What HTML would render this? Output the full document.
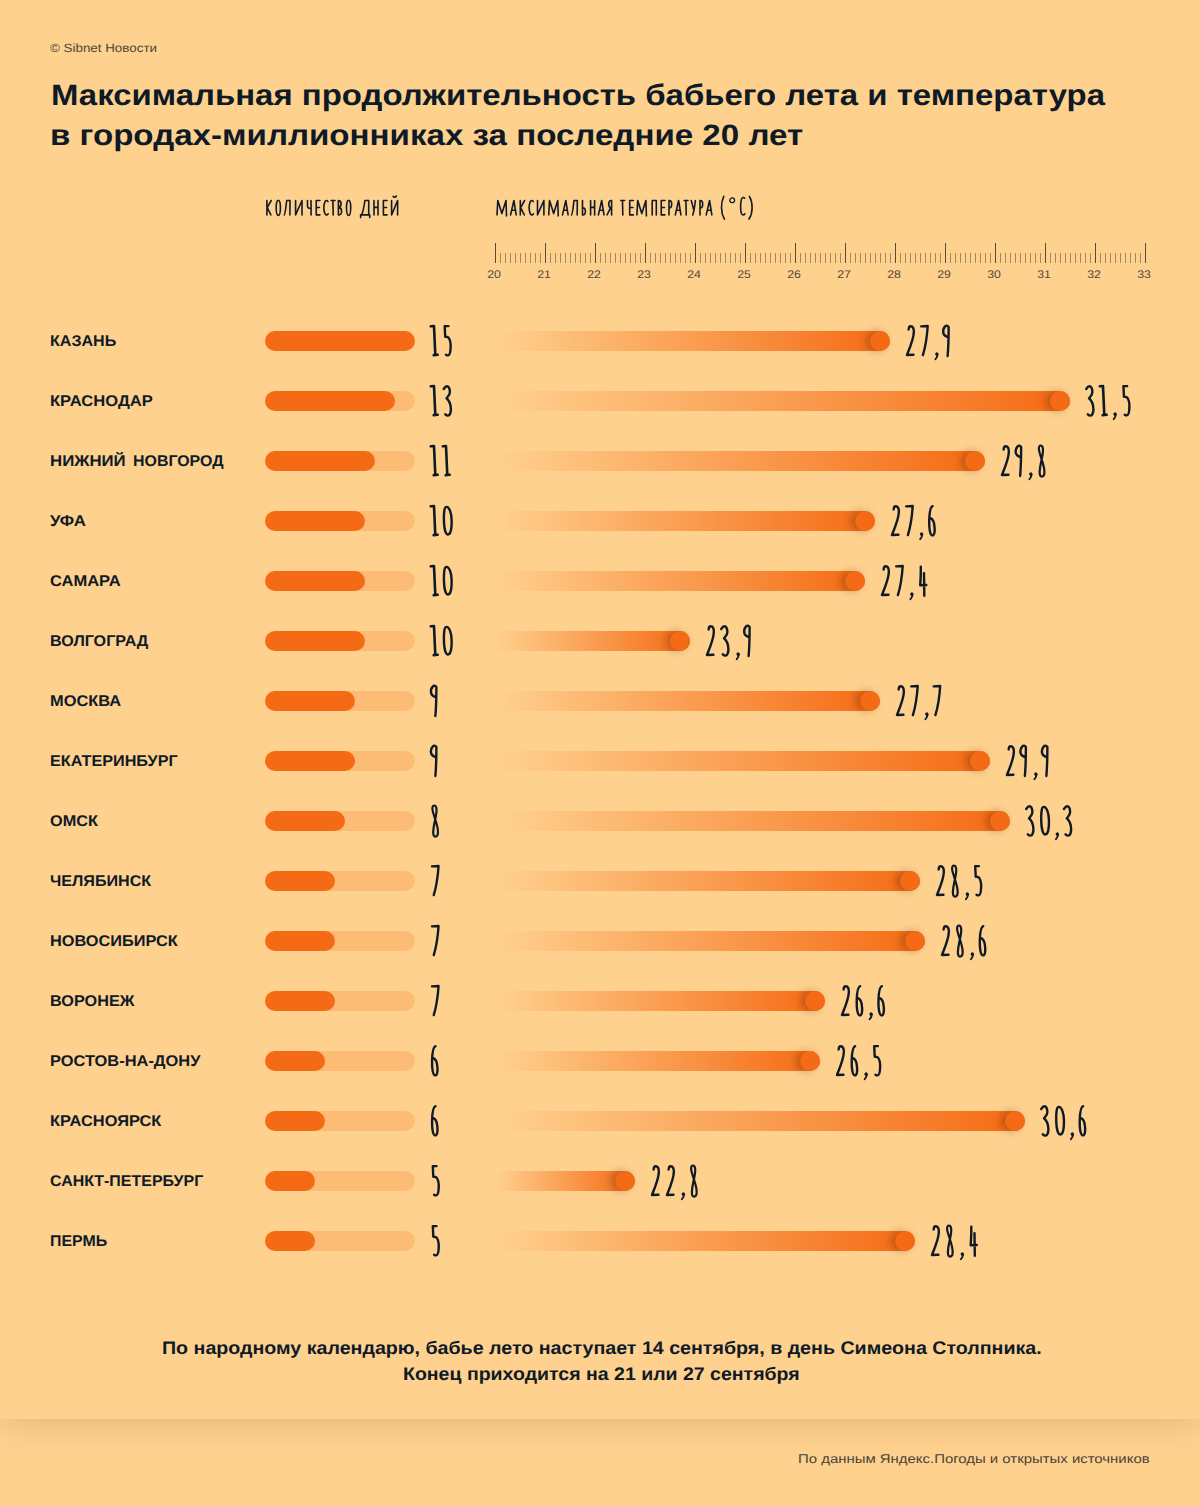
<!DOCTYPE html>
<html lang="ru"><head><meta charset="utf-8"><title>Бабье лето</title>
<style>
html,body{margin:0;padding:0}
body{width:1200px;height:1506px;background:#ffd18f;position:relative;overflow:hidden;font-family:"Liberation Sans",sans-serif}
.t{position:absolute;white-space:nowrap;display:inline-block;transform-origin:0 50%;text-rendering:geometricPrecision}
.abs{position:absolute}
.num{position:absolute;overflow:visible;fill:none;stroke:#0e1a26;stroke-linecap:round;stroke-linejoin:round}
.rl{position:absolute;top:268px;width:40px;text-align:center;font-size:11px;line-height:14px;color:#55493a;transform:scaleX(1.12);text-rendering:geometricPrecision}
.track{position:absolute;left:265px;width:150px;height:20px;border-radius:10px;background:rgba(245,106,20,0.20)}
.fill{height:20px;border-radius:10px;background:#f56a14}
.tbar{position:absolute;left:495px;height:20px;border-radius:0 10px 10px 0;background:linear-gradient(to right,rgba(245,106,20,0) 0%,rgba(245,106,20,1) 100%)}
.tbar i{position:absolute;right:0;top:0;width:20px;height:20px;border-radius:50%;background:#f56a14;box-shadow:-4px 0 8px rgba(20,10,0,.27)}
.footer{position:absolute;left:0;top:1419px;width:1200px;height:87px;background:#ffd18f}
.main{position:absolute;left:0;top:0;width:1200px;height:1419px;background:#ffd18f;box-shadow:0 4px 34px -4px rgba(40,20,0,.17)}
</style></head>
<body>
<div class="footer"></div><div class="main"></div>
<span id="cp" class="t" style="left:50.00px;top:42.00px;font-size:12.00px;line-height:12.00px;font-weight:normal;color:#4d4538;transform:scaleX(1.1146);">© Sibnet Новости</span>
<span id="t1" class="t" style="left:51.00px;top:81.00px;font-size:29.50px;line-height:29.50px;font-weight:bold;color:#0e1a26;transform:scaleX(1.1165);">Максимальная продолжительность бабьего лета и температура</span>
<span id="t2" class="t" style="left:49.80px;top:121.00px;font-size:29.50px;line-height:29.50px;font-weight:bold;color:#0e1a26;transform:scaleX(1.1225);">в городах-миллионниках за последние 20 лет</span>
<svg class="num" style="left:262px;top:190px" width="144" height="36" viewBox="0 0 144 36"><path transform="translate(4.00 9.60)" d="M0.9 0.9 L0.9 15.3 M5.2 0.9 L1.2 8 L4.9 15.3" stroke-width="1.6"/><path transform="translate(13.30 9.60)" d="M3 0.6 C1.4 0.6 0.9 4 0.9 8.2 C0.9 12.5 1.5 15.8 3 15.8 C4.6 15.8 5.1 12.5 5.1 8.2 C5.1 4 4.6 0.6 3 0.6 Z" stroke-width="1.6"/><path transform="translate(21.40 9.60)" d="M0.9 15.3 C1.7 15 2.2 10 3.3 0.9 L6.6 0.9 L6.5 15.3" stroke-width="1.6"/><path transform="translate(32.70 9.60)" d="M0.9 0.9 L0.9 15.3 L7.3 0.9 L7.3 15.3" stroke-width="1.6"/><path transform="translate(44.60 9.60)" d="M0.9 0.9 L0.9 6.3 C0.9 8.5 2.5 8.9 4.4 8.6 M4.4 0.9 L4.5 15.3" stroke-width="1.6"/><path transform="translate(53.35 9.60)" d="M4.6 0.9 L0.9 0.9 L0.9 15.3 L4.5 15.3 M0.9 7.9 L4.1 7.9" stroke-width="1.6"/><path transform="translate(61.10 9.60)" d="M4.9 2 C4 0.5 2.5 0.4 1.7 2.5 C0.7 5.5 0.7 11 1.7 13.8 C2.6 15.9 4.2 15.6 5 14.2" stroke-width="1.6"/><path transform="translate(68.40 9.60)" d="M0.8 0.9 L4.6 0.9 M2.5 0.9 L2.8 15.3" stroke-width="1.6"/><path transform="translate(75.50 9.60)" d="M0.9 0.9 L0.9 15.3 C3.5 15.5 4.2 13.5 4.1 11.5 C4 9.3 2.8 8 1.2 7.8 C2.6 7.4 3.6 6.2 3.6 4.2 C3.6 2 2.6 0.9 0.9 0.9" stroke-width="1.6"/><path transform="translate(83.60 9.60)" d="M3 0.6 C1.4 0.6 0.9 4 0.9 8.2 C0.9 12.5 1.5 15.8 3 15.8 C4.6 15.8 5.1 12.5 5.1 8.2 C5.1 4 4.6 0.6 3 0.6 Z" stroke-width="1.6"/><path transform="translate(97.70 9.60)" d="M0.9 18 L0.9 15.3 L10 15.3 L10 18 M2 15.3 C3.3 12 4.5 6 5.2 0.9 L9 0.9 L9 15.3" stroke-width="1.6"/><path transform="translate(111.10 9.60)" d="M0.9 0.9 L0.9 15.3 M4.9 0.9 L4.9 15.3 M0.9 7.8 L4.9 7.8" stroke-width="1.6"/><path transform="translate(120.50 9.60)" d="M4.6 0.9 L0.9 0.9 L0.9 15.3 L4.5 15.3 M0.9 7.9 L4.1 7.9" stroke-width="1.6"/><path transform="translate(128.70 9.60)" d="M0.9 0.9 L0.9 15.3 L6.9 0.9 L6.9 15.3 M2.4 -3.2 C3 -2.1 4.8 -2.1 5.6 -3.6" stroke-width="1.6"/></svg>
<svg class="num" style="left:492px;top:190px" width="272" height="36" viewBox="0 0 272 36"><path transform="translate(4.10 9.60)" d="M0.9 15.3 L1.7 0.9 L5.8 14 L9.9 0.9 L10.4 16.3" stroke-width="1.6"/><path transform="translate(17.70 9.60)" d="M0.9 15.3 L4.2 0.9 L6.5 15.3 M2 10.6 L5.7 10.6" stroke-width="1.6"/><path transform="translate(27.40 9.60)" d="M0.9 0.9 L0.9 15.3 M5.2 0.9 L1.2 8 L4.9 15.3" stroke-width="1.6"/><path transform="translate(36.40 9.60)" d="M4.9 2 C4 0.5 2.5 0.4 1.7 2.5 C0.7 5.5 0.7 11 1.7 13.8 C2.6 15.9 4.2 15.6 5 14.2" stroke-width="1.6"/><path transform="translate(44.60 9.60)" d="M0.9 0.9 L0.9 15.3 L7.3 0.9 L7.3 15.3" stroke-width="1.6"/><path transform="translate(55.85 9.60)" d="M0.9 15.3 L1.7 0.9 L5.8 14 L9.9 0.9 L10.4 16.3" stroke-width="1.6"/><path transform="translate(69.60 9.60)" d="M0.9 15.3 L4.2 0.9 L6.5 15.3 M2 10.6 L5.7 10.6" stroke-width="1.6"/><path transform="translate(78.70 9.60)" d="M0.9 15.3 C1.7 15 2.2 10 3.3 0.9 L6.6 0.9 L6.5 15.3" stroke-width="1.6"/><path transform="translate(89.60 9.60)" d="M0.9 0.9 L0.9 15.3 C3 15.5 3.8 13.8 3.8 11.8 C3.8 9.5 2.6 8.2 0.9 8.2" stroke-width="1.6"/><path transform="translate(97.70 9.60)" d="M0.9 0.9 L0.9 15.3 M4.9 0.9 L4.9 15.3 M0.9 7.8 L4.9 7.8" stroke-width="1.6"/><path transform="translate(105.50 9.60)" d="M0.9 15.3 L4.2 0.9 L6.5 15.3 M2 10.6 L5.7 10.6" stroke-width="1.6"/><path transform="translate(114.20 9.60)" d="M5.4 0.9 L5.4 15.3 M5.4 0.9 C3.5 0.7 2.5 2 2.5 4.5 C2.5 7 3.6 8.4 5.4 8.5 M4.2 8.5 L0.9 15.3" stroke-width="1.6"/><path transform="translate(128.00 9.60)" d="M0.8 0.9 L4.6 0.9 M2.5 0.9 L2.8 15.3" stroke-width="1.6"/><path transform="translate(136.80 9.60)" d="M4.6 0.9 L0.9 0.9 L0.9 15.3 L4.5 15.3 M0.9 7.9 L4.1 7.9" stroke-width="1.6"/><path transform="translate(144.00 9.60)" d="M0.9 15.3 L1.7 0.9 L5.8 14 L9.9 0.9 L10.4 16.3" stroke-width="1.6"/><path transform="translate(159.30 9.60)" d="M0.9 15.3 L0.9 0.9 L5 0.9 L5 15.3" stroke-width="1.6"/><path transform="translate(168.35 9.60)" d="M4.6 0.9 L0.9 0.9 L0.9 15.3 L4.5 15.3 M0.9 7.9 L4.1 7.9" stroke-width="1.6"/><path transform="translate(176.10 9.60)" d="M0.9 15.3 L0.9 0.9 C3 0.8 3.6 2.5 3.6 4.6 C3.6 7 2.6 8.4 0.9 8.4" stroke-width="1.6"/><path transform="translate(182.40 9.60)" d="M0.9 15.3 L4.2 0.9 L6.5 15.3 M2 10.6 L5.7 10.6" stroke-width="1.6"/><path transform="translate(191.40 9.60)" d="M0.8 0.9 L4.6 0.9 M2.5 0.9 L2.8 15.3" stroke-width="1.6"/><path transform="translate(198.35 9.60)" d="M0.9 0.9 L3.6 11 M5 0.9 C4.5 6 3.5 12 2.4 15.3" stroke-width="1.6"/><path transform="translate(207.10 9.60)" d="M0.9 15.3 L0.9 0.9 C3 0.8 3.6 2.5 3.6 4.6 C3.6 7 2.6 8.4 0.9 8.4" stroke-width="1.6"/><path transform="translate(213.35 9.60)" d="M0.9 15.3 L4.2 0.9 L6.5 15.3 M2 10.6 L5.7 10.6" stroke-width="1.6"/><path transform="translate(228.40 9.60)" d="M3.4 -3.3 C0.2 3 0.2 13 4 19.6" stroke-width="1.6"/><path transform="translate(237.10 9.60)" d="M3.1 -1.7 A2.4 2.4 0 1 0 3.1 3.1 A2.4 2.4 0 1 0 3.1 -1.7 Z" stroke-width="1.3"/><path transform="translate(247.70 9.60)" d="M5 -1.4 C4 -2.6 2.4 -2.4 1.7 0 C0.6 4 0.6 11 1.8 14 C2.8 16 4.3 15.6 5.2 14.2" stroke-width="1.6"/><path transform="translate(256.50 9.60)" d="M0.9 -3.3 C4.6 3 4.6 13 0.5 19.6" stroke-width="1.6"/></svg>
<svg class="abs" style="left:0;top:0" width="1200" height="300"><rect x="495" y="243" width="1" height="20" fill="#5a4a36"/><rect x="500" y="253" width="1" height="10" fill="#5a4a36" opacity=".55"/><rect x="505" y="253" width="1" height="10" fill="#5a4a36" opacity=".55"/><rect x="510" y="253" width="1" height="10" fill="#5a4a36" opacity=".55"/><rect x="515" y="253" width="1" height="10" fill="#5a4a36" opacity=".55"/><rect x="520" y="253" width="1" height="10" fill="#5a4a36" opacity=".55"/><rect x="525" y="253" width="1" height="10" fill="#5a4a36" opacity=".55"/><rect x="530" y="253" width="1" height="10" fill="#5a4a36" opacity=".55"/><rect x="535" y="253" width="1" height="10" fill="#5a4a36" opacity=".55"/><rect x="540" y="253" width="1" height="10" fill="#5a4a36" opacity=".55"/><rect x="545" y="243" width="1" height="20" fill="#5a4a36"/><rect x="550" y="253" width="1" height="10" fill="#5a4a36" opacity=".55"/><rect x="555" y="253" width="1" height="10" fill="#5a4a36" opacity=".55"/><rect x="560" y="253" width="1" height="10" fill="#5a4a36" opacity=".55"/><rect x="565" y="253" width="1" height="10" fill="#5a4a36" opacity=".55"/><rect x="570" y="253" width="1" height="10" fill="#5a4a36" opacity=".55"/><rect x="575" y="253" width="1" height="10" fill="#5a4a36" opacity=".55"/><rect x="580" y="253" width="1" height="10" fill="#5a4a36" opacity=".55"/><rect x="585" y="253" width="1" height="10" fill="#5a4a36" opacity=".55"/><rect x="590" y="253" width="1" height="10" fill="#5a4a36" opacity=".55"/><rect x="595" y="243" width="1" height="20" fill="#5a4a36"/><rect x="600" y="253" width="1" height="10" fill="#5a4a36" opacity=".55"/><rect x="605" y="253" width="1" height="10" fill="#5a4a36" opacity=".55"/><rect x="610" y="253" width="1" height="10" fill="#5a4a36" opacity=".55"/><rect x="615" y="253" width="1" height="10" fill="#5a4a36" opacity=".55"/><rect x="620" y="253" width="1" height="10" fill="#5a4a36" opacity=".55"/><rect x="625" y="253" width="1" height="10" fill="#5a4a36" opacity=".55"/><rect x="630" y="253" width="1" height="10" fill="#5a4a36" opacity=".55"/><rect x="635" y="253" width="1" height="10" fill="#5a4a36" opacity=".55"/><rect x="640" y="253" width="1" height="10" fill="#5a4a36" opacity=".55"/><rect x="645" y="243" width="1" height="20" fill="#5a4a36"/><rect x="650" y="253" width="1" height="10" fill="#5a4a36" opacity=".55"/><rect x="655" y="253" width="1" height="10" fill="#5a4a36" opacity=".55"/><rect x="660" y="253" width="1" height="10" fill="#5a4a36" opacity=".55"/><rect x="665" y="253" width="1" height="10" fill="#5a4a36" opacity=".55"/><rect x="670" y="253" width="1" height="10" fill="#5a4a36" opacity=".55"/><rect x="675" y="253" width="1" height="10" fill="#5a4a36" opacity=".55"/><rect x="680" y="253" width="1" height="10" fill="#5a4a36" opacity=".55"/><rect x="685" y="253" width="1" height="10" fill="#5a4a36" opacity=".55"/><rect x="690" y="253" width="1" height="10" fill="#5a4a36" opacity=".55"/><rect x="695" y="243" width="1" height="20" fill="#5a4a36"/><rect x="700" y="253" width="1" height="10" fill="#5a4a36" opacity=".55"/><rect x="705" y="253" width="1" height="10" fill="#5a4a36" opacity=".55"/><rect x="710" y="253" width="1" height="10" fill="#5a4a36" opacity=".55"/><rect x="715" y="253" width="1" height="10" fill="#5a4a36" opacity=".55"/><rect x="720" y="253" width="1" height="10" fill="#5a4a36" opacity=".55"/><rect x="725" y="253" width="1" height="10" fill="#5a4a36" opacity=".55"/><rect x="730" y="253" width="1" height="10" fill="#5a4a36" opacity=".55"/><rect x="735" y="253" width="1" height="10" fill="#5a4a36" opacity=".55"/><rect x="740" y="253" width="1" height="10" fill="#5a4a36" opacity=".55"/><rect x="745" y="243" width="1" height="20" fill="#5a4a36"/><rect x="750" y="253" width="1" height="10" fill="#5a4a36" opacity=".55"/><rect x="755" y="253" width="1" height="10" fill="#5a4a36" opacity=".55"/><rect x="760" y="253" width="1" height="10" fill="#5a4a36" opacity=".55"/><rect x="765" y="253" width="1" height="10" fill="#5a4a36" opacity=".55"/><rect x="770" y="253" width="1" height="10" fill="#5a4a36" opacity=".55"/><rect x="775" y="253" width="1" height="10" fill="#5a4a36" opacity=".55"/><rect x="780" y="253" width="1" height="10" fill="#5a4a36" opacity=".55"/><rect x="785" y="253" width="1" height="10" fill="#5a4a36" opacity=".55"/><rect x="790" y="253" width="1" height="10" fill="#5a4a36" opacity=".55"/><rect x="795" y="243" width="1" height="20" fill="#5a4a36"/><rect x="800" y="253" width="1" height="10" fill="#5a4a36" opacity=".55"/><rect x="805" y="253" width="1" height="10" fill="#5a4a36" opacity=".55"/><rect x="810" y="253" width="1" height="10" fill="#5a4a36" opacity=".55"/><rect x="815" y="253" width="1" height="10" fill="#5a4a36" opacity=".55"/><rect x="820" y="253" width="1" height="10" fill="#5a4a36" opacity=".55"/><rect x="825" y="253" width="1" height="10" fill="#5a4a36" opacity=".55"/><rect x="830" y="253" width="1" height="10" fill="#5a4a36" opacity=".55"/><rect x="835" y="253" width="1" height="10" fill="#5a4a36" opacity=".55"/><rect x="840" y="253" width="1" height="10" fill="#5a4a36" opacity=".55"/><rect x="845" y="243" width="1" height="20" fill="#5a4a36"/><rect x="850" y="253" width="1" height="10" fill="#5a4a36" opacity=".55"/><rect x="855" y="253" width="1" height="10" fill="#5a4a36" opacity=".55"/><rect x="860" y="253" width="1" height="10" fill="#5a4a36" opacity=".55"/><rect x="865" y="253" width="1" height="10" fill="#5a4a36" opacity=".55"/><rect x="870" y="253" width="1" height="10" fill="#5a4a36" opacity=".55"/><rect x="875" y="253" width="1" height="10" fill="#5a4a36" opacity=".55"/><rect x="880" y="253" width="1" height="10" fill="#5a4a36" opacity=".55"/><rect x="885" y="253" width="1" height="10" fill="#5a4a36" opacity=".55"/><rect x="890" y="253" width="1" height="10" fill="#5a4a36" opacity=".55"/><rect x="895" y="243" width="1" height="20" fill="#5a4a36"/><rect x="900" y="253" width="1" height="10" fill="#5a4a36" opacity=".55"/><rect x="905" y="253" width="1" height="10" fill="#5a4a36" opacity=".55"/><rect x="910" y="253" width="1" height="10" fill="#5a4a36" opacity=".55"/><rect x="915" y="253" width="1" height="10" fill="#5a4a36" opacity=".55"/><rect x="920" y="253" width="1" height="10" fill="#5a4a36" opacity=".55"/><rect x="925" y="253" width="1" height="10" fill="#5a4a36" opacity=".55"/><rect x="930" y="253" width="1" height="10" fill="#5a4a36" opacity=".55"/><rect x="935" y="253" width="1" height="10" fill="#5a4a36" opacity=".55"/><rect x="940" y="253" width="1" height="10" fill="#5a4a36" opacity=".55"/><rect x="945" y="243" width="1" height="20" fill="#5a4a36"/><rect x="950" y="253" width="1" height="10" fill="#5a4a36" opacity=".55"/><rect x="955" y="253" width="1" height="10" fill="#5a4a36" opacity=".55"/><rect x="960" y="253" width="1" height="10" fill="#5a4a36" opacity=".55"/><rect x="965" y="253" width="1" height="10" fill="#5a4a36" opacity=".55"/><rect x="970" y="253" width="1" height="10" fill="#5a4a36" opacity=".55"/><rect x="975" y="253" width="1" height="10" fill="#5a4a36" opacity=".55"/><rect x="980" y="253" width="1" height="10" fill="#5a4a36" opacity=".55"/><rect x="985" y="253" width="1" height="10" fill="#5a4a36" opacity=".55"/><rect x="990" y="253" width="1" height="10" fill="#5a4a36" opacity=".55"/><rect x="995" y="243" width="1" height="20" fill="#5a4a36"/><rect x="1000" y="253" width="1" height="10" fill="#5a4a36" opacity=".55"/><rect x="1005" y="253" width="1" height="10" fill="#5a4a36" opacity=".55"/><rect x="1010" y="253" width="1" height="10" fill="#5a4a36" opacity=".55"/><rect x="1015" y="253" width="1" height="10" fill="#5a4a36" opacity=".55"/><rect x="1020" y="253" width="1" height="10" fill="#5a4a36" opacity=".55"/><rect x="1025" y="253" width="1" height="10" fill="#5a4a36" opacity=".55"/><rect x="1030" y="253" width="1" height="10" fill="#5a4a36" opacity=".55"/><rect x="1035" y="253" width="1" height="10" fill="#5a4a36" opacity=".55"/><rect x="1040" y="253" width="1" height="10" fill="#5a4a36" opacity=".55"/><rect x="1045" y="243" width="1" height="20" fill="#5a4a36"/><rect x="1050" y="253" width="1" height="10" fill="#5a4a36" opacity=".55"/><rect x="1055" y="253" width="1" height="10" fill="#5a4a36" opacity=".55"/><rect x="1060" y="253" width="1" height="10" fill="#5a4a36" opacity=".55"/><rect x="1065" y="253" width="1" height="10" fill="#5a4a36" opacity=".55"/><rect x="1070" y="253" width="1" height="10" fill="#5a4a36" opacity=".55"/><rect x="1075" y="253" width="1" height="10" fill="#5a4a36" opacity=".55"/><rect x="1080" y="253" width="1" height="10" fill="#5a4a36" opacity=".55"/><rect x="1085" y="253" width="1" height="10" fill="#5a4a36" opacity=".55"/><rect x="1090" y="253" width="1" height="10" fill="#5a4a36" opacity=".55"/><rect x="1095" y="243" width="1" height="20" fill="#5a4a36"/><rect x="1100" y="253" width="1" height="10" fill="#5a4a36" opacity=".55"/><rect x="1105" y="253" width="1" height="10" fill="#5a4a36" opacity=".55"/><rect x="1110" y="253" width="1" height="10" fill="#5a4a36" opacity=".55"/><rect x="1115" y="253" width="1" height="10" fill="#5a4a36" opacity=".55"/><rect x="1120" y="253" width="1" height="10" fill="#5a4a36" opacity=".55"/><rect x="1125" y="253" width="1" height="10" fill="#5a4a36" opacity=".55"/><rect x="1130" y="253" width="1" height="10" fill="#5a4a36" opacity=".55"/><rect x="1135" y="253" width="1" height="10" fill="#5a4a36" opacity=".55"/><rect x="1140" y="253" width="1" height="10" fill="#5a4a36" opacity=".55"/><rect x="1145" y="243" width="1" height="20" fill="#5a4a36"/></svg>
<span class="rl" style="left:473.8px">20</span>
<span class="rl" style="left:523.8px">21</span>
<span class="rl" style="left:573.8px">22</span>
<span class="rl" style="left:623.8px">23</span>
<span class="rl" style="left:673.8px">24</span>
<span class="rl" style="left:723.8px">25</span>
<span class="rl" style="left:773.8px">26</span>
<span class="rl" style="left:823.8px">27</span>
<span class="rl" style="left:873.8px">28</span>
<span class="rl" style="left:923.8px">29</span>
<span class="rl" style="left:973.8px">30</span>
<span class="rl" style="left:1023.8px">31</span>
<span class="rl" style="left:1073.8px">32</span>
<span class="rl" style="left:1123.8px">33</span>
<span id="c0" class="t" style="left:50.40px;top:334.00px;font-size:15.50px;line-height:15.50px;font-weight:bold;color:#0e1a26;transform:scaleX(1.0375);">КАЗАНЬ</span>
<div class="track" style="top:331px"><div class="fill" style="width:150px"></div></div>
<svg class="num" style="left:428.5px;top:325.0px" width="30.5" height="40" viewBox="0 0 30.5 40"><path transform="translate(0.40 0)" d="M1.4 1.3 L4.6 1.1 L5.9 30 M4.3 30.1 L8.3 29.8" stroke-width="2.60"/><path transform="translate(11.80 0)" d="M7.6 1.1 L3.9 1.1 L4.4 11.8 C5.5 11.6 7 11.6 8 13 C9.5 15.5 10 20 9.8 23 C9.6 27.5 8.6 30.4 7.2 30.4 C6.4 30.4 5.8 30.1 5.2 29.7" stroke-width="2.40"/></svg>
<div class="tbar" style="top:331px;width:395.0px"><i></i></div>
<svg class="num" style="left:905.0px;top:325.0px" width="53.0" height="40" viewBox="0 0 53.0 40"><path transform="translate(0.15 0)" d="M3.5 4.5 C3.6 2.4 4.5 1.3 5.6 1.3 C7.7 1.3 8.9 3.5 8.7 7 C8.5 14 4.6 23 1.8 30 L8.3 29.8" stroke-width="2.40"/><path transform="translate(13.60 0)" d="M2.6 1.4 L9.1 1.0 C8.4 12 6.8 22 4.3 30.1" stroke-width="2.40"/><path transform="translate(27.55 0)" d="M4.2 29 L4.4 29.3" stroke-width="3.20"/><path transform="translate(27.55 0)" d="M4.9 29.5 C4.9 31.5 4 33 2.9 34.2" stroke-width="1.90"/><path transform="translate(35.63 0)" d="M7.9 2.2 C7.2 0.3 5.6 0.2 4.5 1.4 C2.8 3.2 2.2 6 2.8 8.3 C3.5 10.6 5.6 11.6 7.6 12.4 M8.0 2 C8.0 12 7.8 22 7.0 31" stroke-width="2.40"/></svg>
<span id="c1" class="t" style="left:50.40px;top:394.00px;font-size:15.50px;line-height:15.50px;font-weight:bold;color:#0e1a26;transform:scaleX(1.0698);">КРАСНОДАР</span>
<div class="track" style="top:391px"><div class="fill" style="width:130px"></div></div>
<svg class="num" style="left:428.5px;top:385.0px" width="29.5" height="40" viewBox="0 0 29.5 40"><path transform="translate(0.40 0)" d="M1.4 1.3 L4.6 1.1 L5.9 30 M4.3 30.1 L8.3 29.8" stroke-width="2.60"/><path transform="translate(13.70 0)" d="M1 4 C2 2.5 3 1.3 4.2 1.3 C6 1.3 7 3.5 7.2 7 C7.3 10 5.5 11.5 3.8 13.3 C6.5 15.5 8 19 8.2 24 C8.3 28 7 30.6 5.3 30.6 C4.2 30.6 3.3 30 2.6 29.3" stroke-width="2.40"/></svg>
<div class="tbar" style="top:391px;width:575.0px"><i></i></div>
<svg class="num" style="left:1085.0px;top:385.0px" width="53.2" height="40" viewBox="0 0 53.2 40"><path transform="translate(0.20 0)" d="M1 4 C2 2.5 3 1.3 4.2 1.3 C6 1.3 7 3.5 7.2 7 C7.3 10 5.5 11.5 3.8 13.3 C6.5 15.5 8 19 8.2 24 C8.3 28 7 30.6 5.3 30.6 C4.2 30.6 3.3 30 2.6 29.3" stroke-width="2.40"/><path transform="translate(13.40 0)" d="M1.4 1.3 L4.6 1.1 L5.9 30 M4.3 30.1 L8.3 29.8" stroke-width="2.60"/><path transform="translate(25.80 0)" d="M4.2 29 L4.4 29.3" stroke-width="3.20"/><path transform="translate(25.80 0)" d="M4.9 29.5 C4.9 31.5 4 33 2.9 34.2" stroke-width="1.90"/><path transform="translate(34.55 0)" d="M7.6 1.1 L3.9 1.1 L4.4 11.8 C5.5 11.6 7 11.6 8 13 C9.5 15.5 10 20 9.8 23 C9.6 27.5 8.6 30.4 7.2 30.4 C6.4 30.4 5.8 30.1 5.2 29.7" stroke-width="2.40"/></svg>
<span id="c2a" class="t" style="left:50.40px;top:454.00px;font-size:15.50px;line-height:15.50px;font-weight:bold;color:#0e1a26;transform:scaleX(1.0843);">НИЖНИЙ</span>
<span id="c2b" class="t" style="left:132.90px;top:454.00px;font-size:15.50px;line-height:15.50px;font-weight:bold;color:#0e1a26;transform:scaleX(1.0273);">НОВГОРОД</span>
<div class="track" style="top:451px"><div class="fill" style="width:110px"></div></div>
<svg class="num" style="left:428.5px;top:445.0px" width="28.5" height="40" viewBox="0 0 28.5 40"><path transform="translate(0.40 0)" d="M1.4 1.3 L4.6 1.1 L5.9 30 M4.3 30.1 L8.3 29.8" stroke-width="2.60"/><path transform="translate(12.40 0)" d="M1.4 1.3 L4.6 1.1 L5.9 30 M4.3 30.1 L8.3 29.8" stroke-width="2.60"/></svg>
<div class="tbar" style="top:451px;width:490.0px"><i></i></div>
<svg class="num" style="left:1000.0px;top:445.0px" width="53.8" height="40" viewBox="0 0 53.8 40"><path transform="translate(0.15 0)" d="M3.5 4.5 C3.6 2.4 4.5 1.3 5.6 1.3 C7.7 1.3 8.9 3.5 8.7 7 C8.5 14 4.6 23 1.8 30 L8.3 29.8" stroke-width="2.40"/><path transform="translate(13.13 0)" d="M7.9 2.2 C7.2 0.3 5.6 0.2 4.5 1.4 C2.8 3.2 2.2 6 2.8 8.3 C3.5 10.6 5.6 11.6 7.6 12.4 M8.0 2 C8.0 12 7.8 22 7.0 31" stroke-width="2.40"/><path transform="translate(26.55 0)" d="M4.2 29 L4.4 29.3" stroke-width="3.20"/><path transform="translate(26.55 0)" d="M4.9 29.5 C4.9 31.5 4 33 2.9 34.2" stroke-width="1.90"/><path transform="translate(35.24 0)" d="M5.3 0.5 C3.8 0.5 3.3 2.8 3.8 5.4 C4.5 9 5.8 12 6.5 14.5 C7.8 19 9.3 23 9.2 27.3 C9.1 30.5 7.8 31.6 6.6 31.6 C5.2 31.6 4.3 30 4.4 26.8 C4.6 22 5.8 17.5 6.5 14 C7.2 10.5 8 7 7.7 3.8 C7.5 1.7 6.6 0.5 5.3 0.5 Z" stroke-width="2.20"/></svg>
<span id="c3" class="t" style="left:50.40px;top:514.00px;font-size:15.50px;line-height:15.50px;font-weight:bold;color:#0e1a26;transform:scaleX(1.0848);">УФА</span>
<div class="track" style="top:511px"><div class="fill" style="width:100px"></div></div>
<svg class="num" style="left:428.5px;top:505.0px" width="29.7" height="40" viewBox="0 0 29.7 40"><path transform="translate(0.40 0)" d="M1.4 1.3 L4.6 1.1 L5.9 30 M4.3 30.1 L8.3 29.8" stroke-width="2.60"/><path transform="translate(11.85 0)" d="M5.6 1.9 C3.2 1.9 2.9 9 3.1 16 C3.3 24 4.8 29.5 7.2 29.5 C10 29.5 11 23 10.8 15 C10.6 8 8.6 1.9 5.6 1.9 Z" stroke-width="2.40"/></svg>
<div class="tbar" style="top:511px;width:380.0px"><i></i></div>
<svg class="num" style="left:890.0px;top:505.0px" width="54.0" height="40" viewBox="0 0 54.0 40"><path transform="translate(0.15 0)" d="M3.5 4.5 C3.6 2.4 4.5 1.3 5.6 1.3 C7.7 1.3 8.9 3.5 8.7 7 C8.5 14 4.6 23 1.8 30 L8.3 29.8" stroke-width="2.40"/><path transform="translate(13.60 0)" d="M2.6 1.4 L9.1 1.0 C8.4 12 6.8 22 4.3 30.1" stroke-width="2.40"/><path transform="translate(27.30 0)" d="M4.2 29 L4.4 29.3" stroke-width="3.20"/><path transform="translate(27.30 0)" d="M4.9 29.5 C4.9 31.5 4 33 2.9 34.2" stroke-width="1.90"/><path transform="translate(36.23 0)" d="M6.4 1.2 C4.2 2 3.2 8 3 15 C2.8 22 3.5 30.4 6.2 30.4 C8 30.4 8.6 27 8.4 23 C8.2 18 6.5 13.5 3.6 13" stroke-width="2.40"/></svg>
<span id="c4" class="t" style="left:50.40px;top:574.00px;font-size:15.50px;line-height:15.50px;font-weight:bold;color:#0e1a26;transform:scaleX(1.0652);">САМАРА</span>
<div class="track" style="top:571px"><div class="fill" style="width:100px"></div></div>
<svg class="num" style="left:428.5px;top:565.0px" width="29.7" height="40" viewBox="0 0 29.7 40"><path transform="translate(0.40 0)" d="M1.4 1.3 L4.6 1.1 L5.9 30 M4.3 30.1 L8.3 29.8" stroke-width="2.60"/><path transform="translate(11.85 0)" d="M5.6 1.9 C3.2 1.9 2.9 9 3.1 16 C3.3 24 4.8 29.5 7.2 29.5 C10 29.5 11 23 10.8 15 C10.6 8 8.6 1.9 5.6 1.9 Z" stroke-width="2.40"/></svg>
<div class="tbar" style="top:571px;width:370.0px"><i></i></div>
<svg class="num" style="left:880.0px;top:565.0px" width="55.0" height="40" viewBox="0 0 55.0 40"><path transform="translate(0.15 0)" d="M3.5 4.5 C3.6 2.4 4.5 1.3 5.6 1.3 C7.7 1.3 8.9 3.5 8.7 7 C8.5 14 4.6 23 1.8 30 L8.3 29.8" stroke-width="2.40"/><path transform="translate(13.60 0)" d="M2.6 1.4 L9.1 1.0 C8.4 12 6.8 22 4.3 30.1" stroke-width="2.40"/><path transform="translate(27.55 0)" d="M4.2 29 L4.4 29.3" stroke-width="3.20"/><path transform="translate(27.55 0)" d="M4.9 29.5 C4.9 31.5 4 33 2.9 34.2" stroke-width="1.90"/><path transform="translate(36.00 0)" d="M4.8 1.6 C4.9 8 4.6 14 4.2 20.3 L10.3 20 M8 8.3 L8.3 30.8" stroke-width="2.40"/></svg>
<span id="c5" class="t" style="left:50.40px;top:634.00px;font-size:15.50px;line-height:15.50px;font-weight:bold;color:#0e1a26;transform:scaleX(1.0400);">ВОЛГОГРАД</span>
<div class="track" style="top:631px"><div class="fill" style="width:100px"></div></div>
<svg class="num" style="left:428.5px;top:625.0px" width="29.7" height="40" viewBox="0 0 29.7 40"><path transform="translate(0.40 0)" d="M1.4 1.3 L4.6 1.1 L5.9 30 M4.3 30.1 L8.3 29.8" stroke-width="2.60"/><path transform="translate(11.85 0)" d="M5.6 1.9 C3.2 1.9 2.9 9 3.1 16 C3.3 24 4.8 29.5 7.2 29.5 C10 29.5 11 23 10.8 15 C10.6 8 8.6 1.9 5.6 1.9 Z" stroke-width="2.40"/></svg>
<div class="tbar" style="top:631px;width:195.0px"><i></i></div>
<svg class="num" style="left:705.0px;top:625.0px" width="54.0" height="40" viewBox="0 0 54.0 40"><path transform="translate(0.15 0)" d="M3.5 4.5 C3.6 2.4 4.5 1.3 5.6 1.3 C7.7 1.3 8.9 3.5 8.7 7 C8.5 14 4.6 23 1.8 30 L8.3 29.8" stroke-width="2.40"/><path transform="translate(15.20 0)" d="M1 4 C2 2.5 3 1.3 4.2 1.3 C6 1.3 7 3.5 7.2 7 C7.3 10 5.5 11.5 3.8 13.3 C6.5 15.5 8 19 8.2 24 C8.3 28 7 30.6 5.3 30.6 C4.2 30.6 3.3 30 2.6 29.3" stroke-width="2.40"/><path transform="translate(28.80 0)" d="M4.2 29 L4.4 29.3" stroke-width="3.20"/><path transform="translate(28.80 0)" d="M4.9 29.5 C4.9 31.5 4 33 2.9 34.2" stroke-width="1.90"/><path transform="translate(36.63 0)" d="M7.9 2.2 C7.2 0.3 5.6 0.2 4.5 1.4 C2.8 3.2 2.2 6 2.8 8.3 C3.5 10.6 5.6 11.6 7.6 12.4 M8.0 2 C8.0 12 7.8 22 7.0 31" stroke-width="2.40"/></svg>
<span id="c6" class="t" style="left:50.40px;top:694.00px;font-size:15.50px;line-height:15.50px;font-weight:bold;color:#0e1a26;transform:scaleX(1.0582);">МОСКВА</span>
<div class="track" style="top:691px"><div class="fill" style="width:90px"></div></div>
<svg class="num" style="left:428.5px;top:685.0px" width="16.8" height="40" viewBox="0 0 16.8 40"><path transform="translate(-0.62 0)" d="M7.9 2.2 C7.2 0.3 5.6 0.2 4.5 1.4 C2.8 3.2 2.2 6 2.8 8.3 C3.5 10.6 5.6 11.6 7.6 12.4 M8.0 2 C8.0 12 7.8 22 7.0 31" stroke-width="2.40"/></svg>
<div class="tbar" style="top:691px;width:385.0px"><i></i></div>
<svg class="num" style="left:895.0px;top:685.0px" width="53.5" height="40" viewBox="0 0 53.5 40"><path transform="translate(0.15 0)" d="M3.5 4.5 C3.6 2.4 4.5 1.3 5.6 1.3 C7.7 1.3 8.9 3.5 8.7 7 C8.5 14 4.6 23 1.8 30 L8.3 29.8" stroke-width="2.40"/><path transform="translate(13.60 0)" d="M2.6 1.4 L9.1 1.0 C8.4 12 6.8 22 4.3 30.1" stroke-width="2.40"/><path transform="translate(27.55 0)" d="M4.2 29 L4.4 29.3" stroke-width="3.20"/><path transform="translate(27.55 0)" d="M4.9 29.5 C4.9 31.5 4 33 2.9 34.2" stroke-width="1.90"/><path transform="translate(36.10 0)" d="M2.6 1.4 L9.1 1.0 C8.4 12 6.8 22 4.3 30.1" stroke-width="2.40"/></svg>
<span id="c7" class="t" style="left:50.40px;top:754.00px;font-size:15.50px;line-height:15.50px;font-weight:bold;color:#0e1a26;transform:scaleX(1.0443);">ЕКАТЕРИНБУРГ</span>
<div class="track" style="top:751px"><div class="fill" style="width:90px"></div></div>
<svg class="num" style="left:428.5px;top:745.0px" width="16.8" height="40" viewBox="0 0 16.8 40"><path transform="translate(-0.62 0)" d="M7.9 2.2 C7.2 0.3 5.6 0.2 4.5 1.4 C2.8 3.2 2.2 6 2.8 8.3 C3.5 10.6 5.6 11.6 7.6 12.4 M8.0 2 C8.0 12 7.8 22 7.0 31" stroke-width="2.40"/></svg>
<div class="tbar" style="top:751px;width:495.0px"><i></i></div>
<svg class="num" style="left:1005.0px;top:745.0px" width="51.8" height="40" viewBox="0 0 51.8 40"><path transform="translate(0.15 0)" d="M3.5 4.5 C3.6 2.4 4.5 1.3 5.6 1.3 C7.7 1.3 8.9 3.5 8.7 7 C8.5 14 4.6 23 1.8 30 L8.3 29.8" stroke-width="2.40"/><path transform="translate(12.88 0)" d="M7.9 2.2 C7.2 0.3 5.6 0.2 4.5 1.4 C2.8 3.2 2.2 6 2.8 8.3 C3.5 10.6 5.6 11.6 7.6 12.4 M8.0 2 C8.0 12 7.8 22 7.0 31" stroke-width="2.40"/><path transform="translate(26.55 0)" d="M4.2 29 L4.4 29.3" stroke-width="3.20"/><path transform="translate(26.55 0)" d="M4.9 29.5 C4.9 31.5 4 33 2.9 34.2" stroke-width="1.90"/><path transform="translate(34.38 0)" d="M7.9 2.2 C7.2 0.3 5.6 0.2 4.5 1.4 C2.8 3.2 2.2 6 2.8 8.3 C3.5 10.6 5.6 11.6 7.6 12.4 M8.0 2 C8.0 12 7.8 22 7.0 31" stroke-width="2.40"/></svg>
<span id="c8" class="t" style="left:50.40px;top:814.00px;font-size:15.50px;line-height:15.50px;font-weight:bold;color:#0e1a26;transform:scaleX(1.0522);">ОМСК</span>
<div class="track" style="top:811px"><div class="fill" style="width:80px"></div></div>
<svg class="num" style="left:428.5px;top:805.0px" width="18.3" height="40" viewBox="0 0 18.3 40"><path transform="translate(-0.21 0)" d="M5.3 0.5 C3.8 0.5 3.3 2.8 3.8 5.4 C4.5 9 5.8 12 6.5 14.5 C7.8 19 9.3 23 9.2 27.3 C9.1 30.5 7.8 31.6 6.6 31.6 C5.2 31.6 4.3 30 4.4 26.8 C4.6 22 5.8 17.5 6.5 14 C7.2 10.5 8 7 7.7 3.8 C7.5 1.7 6.6 0.5 5.3 0.5 Z" stroke-width="2.20"/></svg>
<div class="tbar" style="top:811px;width:515.0px"><i></i></div>
<svg class="num" style="left:1025.0px;top:805.0px" width="53.8" height="40" viewBox="0 0 53.8 40"><path transform="translate(0.20 0)" d="M1 4 C2 2.5 3 1.3 4.2 1.3 C6 1.3 7 3.5 7.2 7 C7.3 10 5.5 11.5 3.8 13.3 C6.5 15.5 8 19 8.2 24 C8.3 28 7 30.6 5.3 30.6 C4.2 30.6 3.3 30 2.6 29.3" stroke-width="2.40"/><path transform="translate(13.15 0)" d="M5.6 1.9 C3.2 1.9 2.9 9 3.1 16 C3.3 24 4.8 29.5 7.2 29.5 C10 29.5 11 23 10.8 15 C10.6 8 8.6 1.9 5.6 1.9 Z" stroke-width="2.40"/><path transform="translate(28.05 0)" d="M4.2 29 L4.4 29.3" stroke-width="3.20"/><path transform="translate(28.05 0)" d="M4.9 29.5 C4.9 31.5 4 33 2.9 34.2" stroke-width="1.90"/><path transform="translate(37.95 0)" d="M1 4 C2 2.5 3 1.3 4.2 1.3 C6 1.3 7 3.5 7.2 7 C7.3 10 5.5 11.5 3.8 13.3 C6.5 15.5 8 19 8.2 24 C8.3 28 7 30.6 5.3 30.6 C4.2 30.6 3.3 30 2.6 29.3" stroke-width="2.40"/></svg>
<span id="c9" class="t" style="left:50.40px;top:874.00px;font-size:15.50px;line-height:15.50px;font-weight:bold;color:#0e1a26;transform:scaleX(1.0392);">ЧЕЛЯБИНСК</span>
<div class="track" style="top:871px"><div class="fill" style="width:70px"></div></div>
<svg class="num" style="left:428.5px;top:865.0px" width="17.9" height="40" viewBox="0 0 17.9 40"><path transform="translate(0.45 0)" d="M2.6 1.4 L9.1 1.0 C8.4 12 6.8 22 4.3 30.1" stroke-width="2.40"/></svg>
<div class="tbar" style="top:871px;width:425.0px"><i></i></div>
<svg class="num" style="left:935.0px;top:865.0px" width="55.0" height="40" viewBox="0 0 55.0 40"><path transform="translate(0.15 0)" d="M3.5 4.5 C3.6 2.4 4.5 1.3 5.6 1.3 C7.7 1.3 8.9 3.5 8.7 7 C8.5 14 4.6 23 1.8 30 L8.3 29.8" stroke-width="2.40"/><path transform="translate(13.49 0)" d="M5.3 0.5 C3.8 0.5 3.3 2.8 3.8 5.4 C4.5 9 5.8 12 6.5 14.5 C7.8 19 9.3 23 9.2 27.3 C9.1 30.5 7.8 31.6 6.6 31.6 C5.2 31.6 4.3 30 4.4 26.8 C4.6 22 5.8 17.5 6.5 14 C7.2 10.5 8 7 7.7 3.8 C7.5 1.7 6.6 0.5 5.3 0.5 Z" stroke-width="2.20"/><path transform="translate(28.05 0)" d="M4.2 29 L4.4 29.3" stroke-width="3.20"/><path transform="translate(28.05 0)" d="M4.9 29.5 C4.9 31.5 4 33 2.9 34.2" stroke-width="1.90"/><path transform="translate(36.30 0)" d="M7.6 1.1 L3.9 1.1 L4.4 11.8 C5.5 11.6 7 11.6 8 13 C9.5 15.5 10 20 9.8 23 C9.6 27.5 8.6 30.4 7.2 30.4 C6.4 30.4 5.8 30.1 5.2 29.7" stroke-width="2.40"/></svg>
<span id="c10" class="t" style="left:50.40px;top:934.00px;font-size:15.50px;line-height:15.50px;font-weight:bold;color:#0e1a26;transform:scaleX(1.0529);">НОВОСИБИРСК</span>
<div class="track" style="top:931px"><div class="fill" style="width:70px"></div></div>
<svg class="num" style="left:428.5px;top:925.0px" width="17.9" height="40" viewBox="0 0 17.9 40"><path transform="translate(0.45 0)" d="M2.6 1.4 L9.1 1.0 C8.4 12 6.8 22 4.3 30.1" stroke-width="2.40"/></svg>
<div class="tbar" style="top:931px;width:430.0px"><i></i></div>
<svg class="num" style="left:940.0px;top:925.0px" width="54.6" height="40" viewBox="0 0 54.6 40"><path transform="translate(0.15 0)" d="M3.5 4.5 C3.6 2.4 4.5 1.3 5.6 1.3 C7.7 1.3 8.9 3.5 8.7 7 C8.5 14 4.6 23 1.8 30 L8.3 29.8" stroke-width="2.40"/><path transform="translate(13.49 0)" d="M5.3 0.5 C3.8 0.5 3.3 2.8 3.8 5.4 C4.5 9 5.8 12 6.5 14.5 C7.8 19 9.3 23 9.2 27.3 C9.1 30.5 7.8 31.6 6.6 31.6 C5.2 31.6 4.3 30 4.4 26.8 C4.6 22 5.8 17.5 6.5 14 C7.2 10.5 8 7 7.7 3.8 C7.5 1.7 6.6 0.5 5.3 0.5 Z" stroke-width="2.20"/><path transform="translate(28.05 0)" d="M4.2 29 L4.4 29.3" stroke-width="3.20"/><path transform="translate(28.05 0)" d="M4.9 29.5 C4.9 31.5 4 33 2.9 34.2" stroke-width="1.90"/><path transform="translate(36.83 0)" d="M6.4 1.2 C4.2 2 3.2 8 3 15 C2.8 22 3.5 30.4 6.2 30.4 C8 30.4 8.6 27 8.4 23 C8.2 18 6.5 13.5 3.6 13" stroke-width="2.40"/></svg>
<span id="c11" class="t" style="left:50.40px;top:994.00px;font-size:15.50px;line-height:15.50px;font-weight:bold;color:#0e1a26;transform:scaleX(1.0481);">ВОРОНЕЖ</span>
<div class="track" style="top:991px"><div class="fill" style="width:70px"></div></div>
<svg class="num" style="left:428.5px;top:985.0px" width="17.9" height="40" viewBox="0 0 17.9 40"><path transform="translate(0.45 0)" d="M2.6 1.4 L9.1 1.0 C8.4 12 6.8 22 4.3 30.1" stroke-width="2.40"/></svg>
<div class="tbar" style="top:991px;width:330.0px"><i></i></div>
<svg class="num" style="left:840.0px;top:985.0px" width="53.2" height="40" viewBox="0 0 53.2 40"><path transform="translate(0.15 0)" d="M3.5 4.5 C3.6 2.4 4.5 1.3 5.6 1.3 C7.7 1.3 8.9 3.5 8.7 7 C8.5 14 4.6 23 1.8 30 L8.3 29.8" stroke-width="2.40"/><path transform="translate(13.73 0)" d="M6.4 1.2 C4.2 2 3.2 8 3 15 C2.8 22 3.5 30.4 6.2 30.4 C8 30.4 8.6 27 8.4 23 C8.2 18 6.5 13.5 3.6 13" stroke-width="2.40"/><path transform="translate(26.80 0)" d="M4.2 29 L4.4 29.3" stroke-width="3.20"/><path transform="translate(26.80 0)" d="M4.9 29.5 C4.9 31.5 4 33 2.9 34.2" stroke-width="1.90"/><path transform="translate(35.48 0)" d="M6.4 1.2 C4.2 2 3.2 8 3 15 C2.8 22 3.5 30.4 6.2 30.4 C8 30.4 8.6 27 8.4 23 C8.2 18 6.5 13.5 3.6 13" stroke-width="2.40"/></svg>
<span id="c12" class="t" style="left:50.40px;top:1054.00px;font-size:15.50px;line-height:15.50px;font-weight:bold;color:#0e1a26;transform:scaleX(1.0592);">РОСТОВ-НА-ДОНУ</span>
<div class="track" style="top:1051px"><div class="fill" style="width:60px"></div></div>
<svg class="num" style="left:428.5px;top:1045.0px" width="17.9" height="40" viewBox="0 0 17.9 40"><path transform="translate(0.08 0)" d="M6.4 1.2 C4.2 2 3.2 8 3 15 C2.8 22 3.5 30.4 6.2 30.4 C8 30.4 8.6 27 8.4 23 C8.2 18 6.5 13.5 3.6 13" stroke-width="2.40"/></svg>
<div class="tbar" style="top:1051px;width:325.0px"><i></i></div>
<svg class="num" style="left:835.0px;top:1045.0px" width="54.0" height="40" viewBox="0 0 54.0 40"><path transform="translate(0.15 0)" d="M3.5 4.5 C3.6 2.4 4.5 1.3 5.6 1.3 C7.7 1.3 8.9 3.5 8.7 7 C8.5 14 4.6 23 1.8 30 L8.3 29.8" stroke-width="2.40"/><path transform="translate(13.73 0)" d="M6.4 1.2 C4.2 2 3.2 8 3 15 C2.8 22 3.5 30.4 6.2 30.4 C8 30.4 8.6 27 8.4 23 C8.2 18 6.5 13.5 3.6 13" stroke-width="2.40"/><path transform="translate(26.80 0)" d="M4.2 29 L4.4 29.3" stroke-width="3.20"/><path transform="translate(26.80 0)" d="M4.9 29.5 C4.9 31.5 4 33 2.9 34.2" stroke-width="1.90"/><path transform="translate(35.30 0)" d="M7.6 1.1 L3.9 1.1 L4.4 11.8 C5.5 11.6 7 11.6 8 13 C9.5 15.5 10 20 9.8 23 C9.6 27.5 8.6 30.4 7.2 30.4 C6.4 30.4 5.8 30.1 5.2 29.7" stroke-width="2.40"/></svg>
<span id="c13" class="t" style="left:50.40px;top:1114.00px;font-size:15.50px;line-height:15.50px;font-weight:bold;color:#0e1a26;transform:scaleX(1.0581);">КРАСНОЯРСК</span>
<div class="track" style="top:1111px"><div class="fill" style="width:60px"></div></div>
<svg class="num" style="left:428.5px;top:1105.0px" width="17.9" height="40" viewBox="0 0 17.9 40"><path transform="translate(0.08 0)" d="M6.4 1.2 C4.2 2 3.2 8 3 15 C2.8 22 3.5 30.4 6.2 30.4 C8 30.4 8.6 27 8.4 23 C8.2 18 6.5 13.5 3.6 13" stroke-width="2.40"/></svg>
<div class="tbar" style="top:1111px;width:530.0px"><i></i></div>
<svg class="num" style="left:1040.0px;top:1105.0px" width="54.5" height="40" viewBox="0 0 54.5 40"><path transform="translate(0.20 0)" d="M1 4 C2 2.5 3 1.3 4.2 1.3 C6 1.3 7 3.5 7.2 7 C7.3 10 5.5 11.5 3.8 13.3 C6.5 15.5 8 19 8.2 24 C8.3 28 7 30.6 5.3 30.6 C4.2 30.6 3.3 30 2.6 29.3" stroke-width="2.40"/><path transform="translate(13.15 0)" d="M5.6 1.9 C3.2 1.9 2.9 9 3.1 16 C3.3 24 4.8 29.5 7.2 29.5 C10 29.5 11 23 10.8 15 C10.6 8 8.6 1.9 5.6 1.9 Z" stroke-width="2.40"/><path transform="translate(28.05 0)" d="M4.2 29 L4.4 29.3" stroke-width="3.20"/><path transform="translate(28.05 0)" d="M4.9 29.5 C4.9 31.5 4 33 2.9 34.2" stroke-width="1.90"/><path transform="translate(36.73 0)" d="M6.4 1.2 C4.2 2 3.2 8 3 15 C2.8 22 3.5 30.4 6.2 30.4 C8 30.4 8.6 27 8.4 23 C8.2 18 6.5 13.5 3.6 13" stroke-width="2.40"/></svg>
<span id="c14" class="t" style="left:50.40px;top:1174.00px;font-size:15.50px;line-height:15.50px;font-weight:bold;color:#0e1a26;transform:scaleX(1.0295);">САНКТ-ПЕТЕРБУРГ</span>
<div class="track" style="top:1171px"><div class="fill" style="width:50px"></div></div>
<svg class="num" style="left:428.5px;top:1165.0px" width="18.6" height="40" viewBox="0 0 18.6 40"><path transform="translate(-0.10 0)" d="M7.6 1.1 L3.9 1.1 L4.4 11.8 C5.5 11.6 7 11.6 8 13 C9.5 15.5 10 20 9.8 23 C9.6 27.5 8.6 30.4 7.2 30.4 C6.4 30.4 5.8 30.1 5.2 29.7" stroke-width="2.40"/></svg>
<div class="tbar" style="top:1171px;width:140.0px"><i></i></div>
<svg class="num" style="left:650.0px;top:1165.0px" width="56.0" height="40" viewBox="0 0 56.0 40"><path transform="translate(0.15 0)" d="M3.5 4.5 C3.6 2.4 4.5 1.3 5.6 1.3 C7.7 1.3 8.9 3.5 8.7 7 C8.5 14 4.6 23 1.8 30 L8.3 29.8" stroke-width="2.40"/><path transform="translate(15.15 0)" d="M3.5 4.5 C3.6 2.4 4.5 1.3 5.6 1.3 C7.7 1.3 8.9 3.5 8.7 7 C8.5 14 4.6 23 1.8 30 L8.3 29.8" stroke-width="2.40"/><path transform="translate(29.05 0)" d="M4.2 29 L4.4 29.3" stroke-width="3.20"/><path transform="translate(29.05 0)" d="M4.9 29.5 C4.9 31.5 4 33 2.9 34.2" stroke-width="1.90"/><path transform="translate(37.49 0)" d="M5.3 0.5 C3.8 0.5 3.3 2.8 3.8 5.4 C4.5 9 5.8 12 6.5 14.5 C7.8 19 9.3 23 9.2 27.3 C9.1 30.5 7.8 31.6 6.6 31.6 C5.2 31.6 4.3 30 4.4 26.8 C4.6 22 5.8 17.5 6.5 14 C7.2 10.5 8 7 7.7 3.8 C7.5 1.7 6.6 0.5 5.3 0.5 Z" stroke-width="2.20"/></svg>
<span id="c15" class="t" style="left:50.40px;top:1234.00px;font-size:15.50px;line-height:15.50px;font-weight:bold;color:#0e1a26;transform:scaleX(1.0268);">ПЕРМЬ</span>
<div class="track" style="top:1231px"><div class="fill" style="width:50px"></div></div>
<svg class="num" style="left:428.5px;top:1225.0px" width="18.6" height="40" viewBox="0 0 18.6 40"><path transform="translate(-0.10 0)" d="M7.6 1.1 L3.9 1.1 L4.4 11.8 C5.5 11.6 7 11.6 8 13 C9.5 15.5 10 20 9.8 23 C9.6 27.5 8.6 30.4 7.2 30.4 C6.4 30.4 5.8 30.1 5.2 29.7" stroke-width="2.40"/></svg>
<div class="tbar" style="top:1231px;width:420.0px"><i></i></div>
<svg class="num" style="left:930.0px;top:1225.0px" width="55.5" height="40" viewBox="0 0 55.5 40"><path transform="translate(0.15 0)" d="M3.5 4.5 C3.6 2.4 4.5 1.3 5.6 1.3 C7.7 1.3 8.9 3.5 8.7 7 C8.5 14 4.6 23 1.8 30 L8.3 29.8" stroke-width="2.40"/><path transform="translate(13.49 0)" d="M5.3 0.5 C3.8 0.5 3.3 2.8 3.8 5.4 C4.5 9 5.8 12 6.5 14.5 C7.8 19 9.3 23 9.2 27.3 C9.1 30.5 7.8 31.6 6.6 31.6 C5.2 31.6 4.3 30 4.4 26.8 C4.6 22 5.8 17.5 6.5 14 C7.2 10.5 8 7 7.7 3.8 C7.5 1.7 6.6 0.5 5.3 0.5 Z" stroke-width="2.20"/><path transform="translate(28.05 0)" d="M4.2 29 L4.4 29.3" stroke-width="3.20"/><path transform="translate(28.05 0)" d="M4.9 29.5 C4.9 31.5 4 33 2.9 34.2" stroke-width="1.90"/><path transform="translate(36.50 0)" d="M4.8 1.6 C4.9 8 4.6 14 4.2 20.3 L10.3 20 M8 8.3 L8.3 30.8" stroke-width="2.40"/></svg>
<span id="n1" class="t" style="left:161.70px;top:1339.00px;font-size:18.20px;line-height:18.20px;font-weight:bold;color:#0e1a26;transform:scaleX(1.0791);">По народному календарю, бабье лето наступает 14 сентября, в день Симеона Столпника.</span>
<span id="n2" class="t" style="left:403.00px;top:1365.00px;font-size:18.20px;line-height:18.20px;font-weight:bold;color:#0e1a26;transform:scaleX(1.0730);">Конец приходится на 21 или 27 сентября</span>
<span id="ft" class="t" style="left:797.50px;top:1453.00px;font-size:12.60px;line-height:12.60px;font-weight:normal;color:#4a4338;transform:scaleX(1.1852);">По данным Яндекс.Погоды и открытых источников</span>
</body></html>
